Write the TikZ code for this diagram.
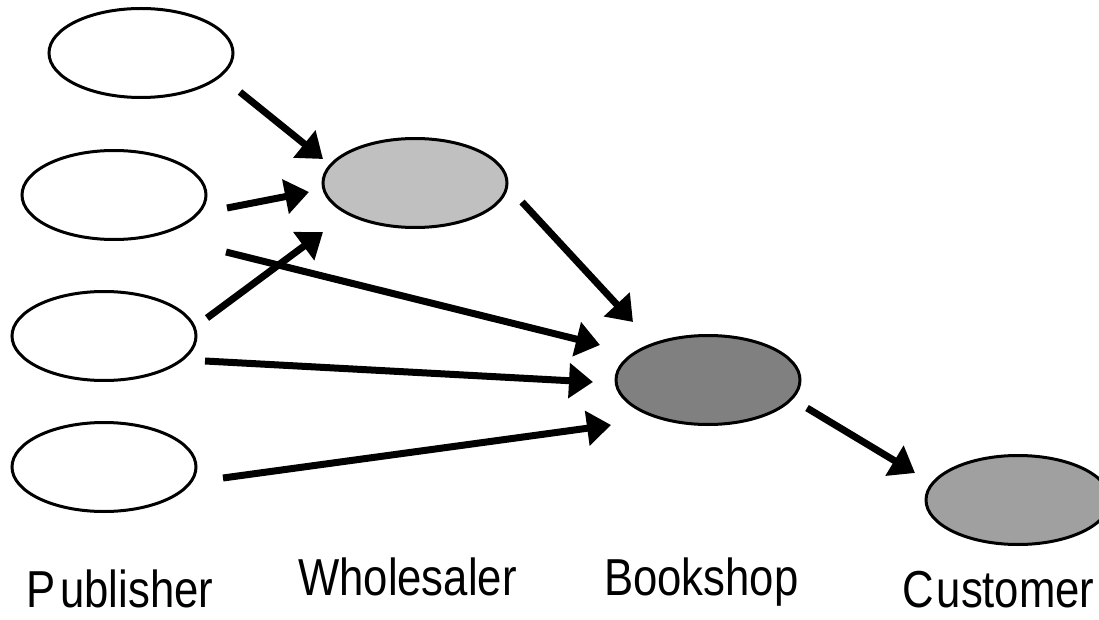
\documentclass[tikz,border=0pt]{standalone}
\usepackage{fontspec}
\newfontfamily\labelfont[FakeStretch=0.84]{Liberation Sans}
\usetikzlibrary{arrows.meta,shapes.geometric}
\definecolor{wgray}{HTML}{C0C0C0}
\definecolor{bgray}{HTML}{808080}
\definecolor{cgray}{HTML}{A0A0A0}
\begin{document}
\begin{tikzpicture}[x=1pt,y=-1pt,
  actor/.style={ellipse, draw=black, line width=3pt, minimum width=184pt, minimum height=89pt, inner sep=0pt, outer sep=0pt, fill=white},
  flow/.style={line width=7pt, -{Triangle[length=24pt,width=34pt]}},
  lbl/.style={anchor=base west, inner sep=0pt, font=\labelfont\fontsize{52}{62}\selectfont}]
\useasboundingbox (0,0) rectangle (1099,620);
\clip (0,0) rectangle (1099,620);
% nodes
\node[actor] (p1) at (141,53) {};
\node[actor] (p2) at (114,195) {};
\node[actor] (p3) at (104,336) {};
\node[actor] (p4) at (104,467) {};
\node[actor, fill=wgray] (w) at (415,183) {};
\node[actor, fill=bgray] (b) at (708,380) {};
\node[actor, fill=cgray] (c) at (1018,500) {};
% connectors
\draw[flow] ([shift={(7,39)}]p1.east) -- ([shift={(0,-24)}]w.west);
\draw[flow] ([shift={(21,13)}]p2.east) -- ([shift={(-14,9)}]w.west);
\draw[flow] ([shift={(20,57)}]p2.east) -- ([shift={(-16,-35)}]b.west);
\draw[flow] ([shift={(11,-18)}]p3.east) -- ([shift={(0,49)}]w.west);
\draw[flow] ([shift={(9,25)}]p3.east) -- ([shift={(-23,2)}]b.west);
\draw[flow] ([shift={(27,11)}]p4.east) -- ([shift={(-5,45)}]b.west);
\draw[flow] ([shift={(15,19)}]w.east) -- ([shift={(17,-58)}]b.west);
\draw[flow] ([shift={(7,28)}]b.east) -- ([shift={(-11,-27)}]c.west);
% labels
\node[lbl] (lp) at (26,607) {P\hspace{5pt}ublisher};
\node[lbl] (lw) at (298,595) {Wholesaler};
\node[lbl] (lb) at (604,595) {Bookshop};
\node[lbl] (lc) at (902,607) {C\hspace{3pt}ustomer};
\end{tikzpicture}
\end{document}
